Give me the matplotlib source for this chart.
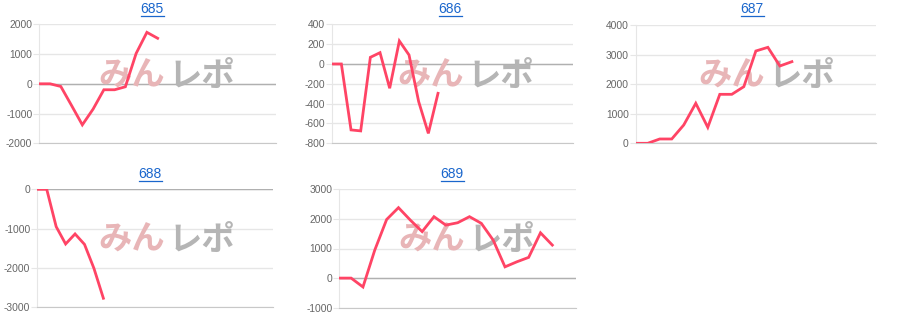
import matplotlib.pyplot as plt

plt.rcParams['font.family'] = ['Liberation Sans', 'DejaVu Sans']

# chart titles (machine numbers)
titles = ['685', '686', '687', '688', '689']

# number of x slots per chart (line stops early on some)
n_slots = [23, 26, 21, 26, 21]

# series values
v685 = [0, 0, -90, -730, -1380, -850, -200, -200, -100, 1020, 1730, 1530]
v686 = [0, 0, -665, -675, 67, 114, -245, 232, 91, -380, -700, -296]
v687 = [0, 0, 146, 146, 620, 1352, 540, 1656, 1656, 1915, 3121, 3245, 2614, 2760]
v688 = [0, 0, -950, -1390, -1135, -1400, -2010, -2770]
v689 = [0, 0, -300, 950, 1980, 2380, 1960, 1570, 2075, 1790, 1870, 2075,
        1850, 1285, 380, 550, 700, 1530, 1115]
values = [v685, v686, v687, v688, v689]

y_ticks = [
    [-2000, -1000, 0, 1000, 2000],
    [-800, -600, -400, -200, 0, 200, 400],
    [0, 1000, 2000, 3000, 4000],
    [-3000, -2000, -1000, 0],
    [-1000, 0, 1000, 2000, 3000],
]

W, H = 900, 328
# axes boxes in pixels: left, top, right, bottom
boxes = [
    (39.3, 24.3, 276.0, 143.3),
    (331.7, 24.3, 573.3, 143.3),
    (635.7, 25.0, 876.0, 143.3),
    (37.3, 189.3, 273.3, 307.3),
    (339.3, 189.3, 576.0, 307.7),
]
# title centres and watermark centres in pixels
title_pos = [(152, 9), (450, 9), (752, 9), (150, 174), (452, 174)]
marks = [(166, 76), (465, 76), (766, 76), (166, 240), (466, 240)]

line_color = '#ff4465'
title_color = '#1a66cc'
grid_color = '#e6e6e6'

fig = plt.figure(figsize=(W / 100, H / 100), dpi=100)

for i in range(5):
    l, t, r, b = boxes[i]
    ax = fig.add_axes([l / W, 1 - b / H, (r - l) / W, (b - t) / H])
    ticks = y_ticks[i]
    ax.set_xlim(0, n_slots[i] - 1)
    ax.set_ylim(ticks[0], ticks[-1])
    ax.set_yticks(ticks)
    ax.set_yticklabels([str(k) for k in ticks])
    ax.set_xticks([])
    ax.grid(axis='y', color=grid_color, linewidth=1)
    ax.axhline(0, color='#b0b0b0', linewidth=1, zorder=1)
    for s in ['top', 'right']:
        ax.spines[s].set_visible(False)
    ax.spines['left'].set_color(grid_color)
    ax.spines['bottom'].set_color('#c8c8c8')
    ax.tick_params(axis='y', length=4, color=grid_color, labelsize=7.4,
                   labelcolor='#666666', pad=1)
    ax.set_axisbelow(True)

    ax.plot(range(len(values[i])), values[i], color=line_color, linewidth=2,
            solid_joinstyle='miter', zorder=3)

    # title with underline
    px, py = title_pos[i]
    fig.text(px / W, 1 - py / H, titles[i], color=title_color,
             fontsize=10, ha='center', va='center')
    fig.add_artist(plt.Line2D([(px - 11.5) / W, (px + 11.5) / W],
                              [1 - 15.5 / H - (py - 9) / H] * 2,
                              color=title_color, linewidth=0.9))

    # watermark logo, below the line
    mx, my = marks[i]
    ax.text((mx - 34) / W, 1 - my / H, 'みん', family=['Noto Sans CJK JP'],
            fontsize=24, fontweight='bold', color='#e8b5b7',
            ha='center', va='center', zorder=2, transform=fig.transFigure,
            clip_on=False)
    ax.text((mx + 36) / W, 1 - my / H, 'レポ', family=['Noto Sans CJK JP'],
            fontsize=24, fontweight='bold', color='#b5b5b5',
            ha='center', va='center', zorder=2, transform=fig.transFigure,
            clip_on=False)

fig.savefig('out.png', dpi=100)
